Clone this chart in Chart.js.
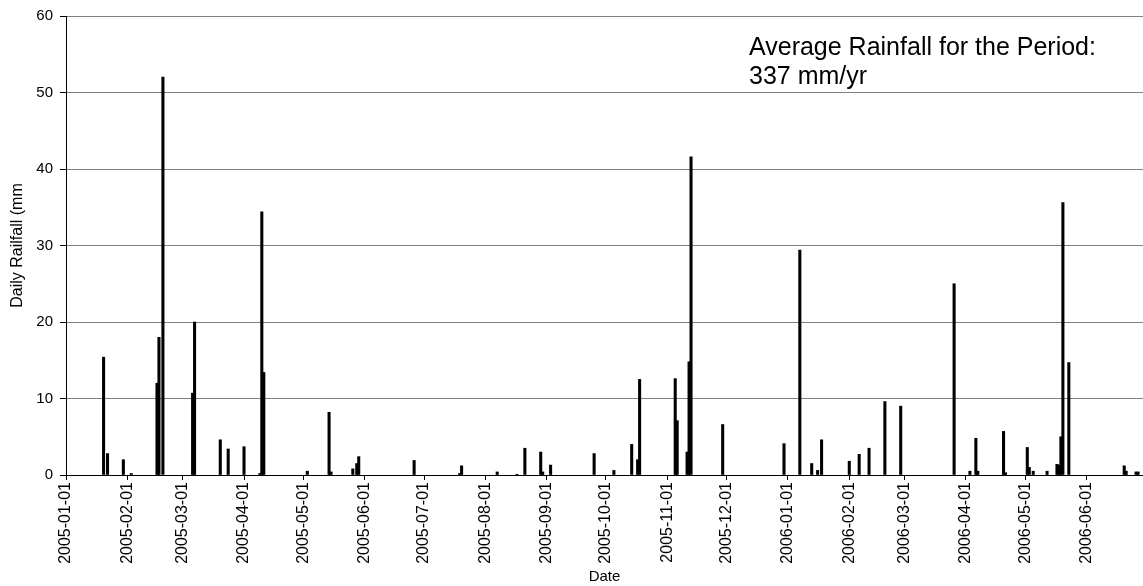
<!DOCTYPE html>
<html>
<head>
<meta charset="utf-8">
<title>Daily Rainfall</title>
<script src="https://cdn.jsdelivr.net/npm/chart.js@4/dist/chart.umd.min.js"></script>
<style>
  html, body { margin: 0; padding: 0; background: #fff; }
  #wrap { width: 1143px; height: 586px; }
</style>
</head>
<body>
<div id="wrap"><canvas id="rainChart" width="1143" height="586"></canvas></div>
<script>
// Daily rainfall readings (mm)
const rainDates = [
    '2005-01-20', '2005-01-22', '2005-01-30', '2005-02-03', '2005-02-16', '2005-02-17',
    '2005-02-19', '2005-03-06', '2005-03-07', '2005-03-20', '2005-03-24', '2005-04-01',
    '2005-04-09', '2005-04-10', '2005-04-11', '2005-05-03', '2005-05-14', '2005-05-15',
    '2005-05-26', '2005-05-28', '2005-05-29', '2005-06-26', '2005-07-19', '2005-07-20',
    '2005-08-07', '2005-08-17', '2005-08-21', '2005-08-29', '2005-08-30', '2005-09-03',
    '2005-09-25', '2005-10-05', '2005-10-14', '2005-10-17', '2005-10-18', '2005-11-05',
    '2005-11-06', '2005-11-11', '2005-11-12', '2005-11-13', '2005-11-29', '2005-12-30',
    '2006-01-07', '2006-01-13', '2006-01-16', '2006-01-18', '2006-02-01', '2006-02-06',
    '2006-02-11', '2006-02-19', '2006-02-27', '2006-03-26', '2006-04-03', '2006-04-06',
    '2006-04-07', '2006-04-20', '2006-04-21', '2006-05-02', '2006-05-03', '2006-05-05',
    '2006-05-12', '2006-05-17', '2006-05-18', '2006-05-19', '2006-05-20', '2006-05-23',
    '2006-06-20', '2006-06-21', '2006-06-26', '2006-06-27'
];
const rainValues = [
    15.4, 2.8, 2.0, 0.2, 12.0, 18.0,
    52.0, 10.7, 20.0, 4.6, 3.4, 3.7,
    0.2, 34.4, 13.4, 0.5, 8.2, 0.4,
    0.8, 1.5, 2.4, 1.9, 0.2, 1.2,
    0.4, 0.1, 3.5, 3.0, 0.4, 1.3,
    2.8, 0.6, 4.0, 2.0, 12.5, 12.6,
    7.1, 3.0, 14.8, 41.6, 6.6, 4.1,
    29.4, 1.5, 0.6, 4.6, 1.8, 2.7,
    3.5, 9.6, 9.0, 25.0, 0.5, 4.8,
    0.5, 5.7, 0.3, 3.6, 1.0, 0.5,
    0.5, 1.4, 1.3, 5.0, 35.6, 14.7,
    1.2, 0.5, 0.4, 0.4
];

// Month labels on the date axis
const monthTicks = [
    '2005-01-01', '2005-02-01', '2005-03-01', '2005-04-01', '2005-05-01', '2005-06-01',
    '2005-07-01', '2005-08-01', '2005-09-01', '2005-10-01', '2005-11-01', '2005-12-01',
    '2006-01-01', '2006-02-01', '2006-03-01', '2006-04-01', '2006-05-01', '2006-06-01'
];
const axisStart = '2005-01-01';
const axisEnd = '2006-06-29';
const noteLines = ['Average Rainfall for the Period:', '337 mm/yr'];

const FONT = '"Liberation Sans", Arial, sans-serif';
const DAY_MS = 86400000;
const startMs = Date.parse(axisStart + 'T00:00:00Z');

// days since axisStart
function toDay(iso) {
    return (Date.parse(iso + 'T00:00:00Z') - startMs) / DAY_MS;
}

function dayLabel(day) {
    const d = new Date(startMs + Math.round(day) * DAY_MS);
    return d.toISOString().slice(0, 10);
}

const points = rainDates.map((d, i) => ({ x: toDay(d), y: rainValues[i] }));
const tickDays = monthTicks.map(toDay);

// text box in the top right corner
const notePlugin = {
    id: 'note',
    afterDraw(chart) {
        const ctx = chart.ctx;
        ctx.save();
        ctx.font = '25px ' + FONT;
        ctx.fillStyle = '#000';
        ctx.textBaseline = 'alphabetic';
        ctx.fillText(noteLines[0], 749, 55);
        ctx.fillText(noteLines[1], 749, 84);
        ctx.restore();
    }
};

new Chart(document.getElementById('rainChart'), {
    type: 'bar',
    data: {
        datasets: [{
            label: 'Daily Rainfall',
            data: points,
            backgroundColor: '#000',
            borderWidth: 0,
            barThickness: 2.4
        }]
    },
    options: {
        responsive: false,
        animation: false,
        devicePixelRatio: 1,
        layout: { padding: { top: 14, right: 0, left: 0, bottom: 0 } },
        plugins: {
            legend: { display: false },
            tooltip: { enabled: false }
        },
        scales: {
            x: {
                type: 'linear',
                offset: false,
                min: 0,
                max: toDay(axisEnd) + 0.5,
                afterBuildTicks(scale) {
                    scale.ticks = tickDays.map(v => ({ value: v }));
                },
                afterFit(scale) { scale.height = 111; },
                grid: {
                    offset: false,
                    drawOnChartArea: false,
                    drawTicks: true,
                    tickLength: 5,
                    tickColor: '#000'
                },
                border: { display: true, color: '#000', width: 1 },
                ticks: {
                    autoSkip: false,
                    minRotation: 90,
                    maxRotation: 90,
                    padding: 2,
                    color: '#000',
                    font: { family: FONT, size: 16 },
                    callback: value => dayLabel(value)
                },
                title: {
                    display: true,
                    text: 'Date',
                    color: '#000',
                    font: { family: FONT, size: 15 },
                    padding: { top: 0, bottom: 0 }
                }
            },
            y: {
                min: 0,
                max: 60,
                afterFit(scale) { scale.width = 66; },
                grid: {
                    color: '#808080',
                    lineWidth: 1,
                    drawTicks: true,
                    tickLength: 6,
                    tickColor: '#000'
                },
                border: { display: true, color: '#000', width: 1 },
                ticks: {
                    stepSize: 10,
                    padding: 7,
                    color: '#000',
                    font: { family: FONT, size: 15 }
                },
                title: {
                    display: true,
                    text: 'Daily Railfall (mm',
                    color: '#000',
                    font: { family: FONT, size: 16 },
                    padding: { top: 8, bottom: 0 }
                }
            }
        }
    },
    plugins: [notePlugin]
});
</script>
</body>
</html>
